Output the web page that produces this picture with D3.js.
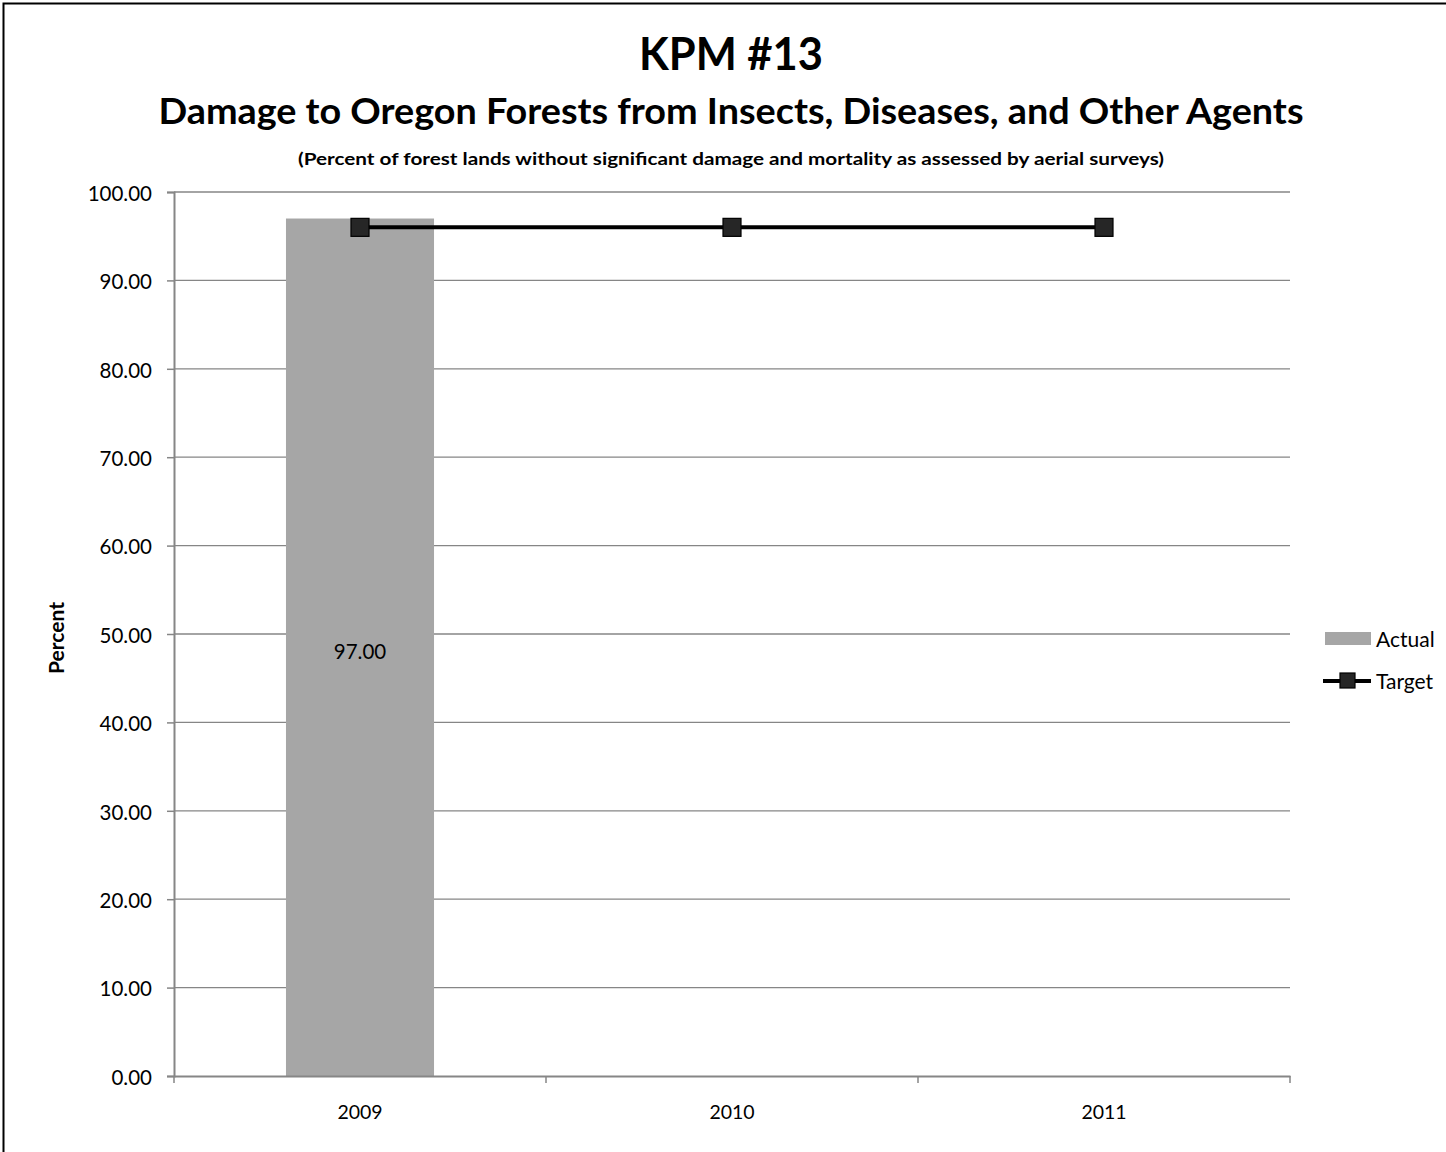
<!DOCTYPE html>
<html>
<head>
<meta charset="utf-8">
<script src="https://cdn.jsdelivr.net/npm/d3@7"></script>
<style>
  html, body { margin: 0; padding: 0; background: #fff; }
  svg { display: block; font-family: Lato, "Open Sans", sans-serif; }
</style>
</head>
<body>
<svg id="chart" width="1446" height="1152"></svg>
<script>
// Chart data
const years = ["2009", "2010", "2011"];
const actual = [97.00, null, null];
const target = [96, 96, 96];
const yTicks = [0, 10, 20, 30, 40, 50, 60, 70, 80, 90, 100];
const seriesNames = ["Actual", "Target"];

const titleLines = [
  "KPM #13",
  "Damage to Oregon Forests from Insects, Diseases, and Other Agents",
  "(Percent of forest lands without significant damage and mortality as assessed by aerial surveys)"
];

const svg = d3.select("#chart");
const W = 1446, H = 1152;
const plot = { left: 174, right: 1290, top: 192, bottom: 1076 };
const axisColor = "#868686";
const barColor = "#a6a6a6";

// Outer chart frame
svg.append("rect")
  .attr("x", 3.5).attr("y", 3.5)
  .attr("width", W + 10).attr("height", H + 10)
  .attr("fill", "#fff").attr("stroke", "#000").attr("stroke-width", 2);

// Titles
const titleSpecs = [
  { y: 70, size: 45, width: 184 },
  { y: 124, size: 36, width: 1145 },
  { y: 165, size: 17.5, width: 866 }
];
titleLines.forEach((t, i) => {
  const s = titleSpecs[i];
  svg.append("text")
    .attr("x", 731).attr("y", s.y)
    .attr("text-anchor", "middle")
    .attr("font-weight", "bold")
    .attr("font-size", s.size)
    .attr("textLength", s.width)
    .attr("lengthAdjust", "spacingAndGlyphs")
    .text(t);
});

// Scales
const x = d3.scaleBand().domain(years).range([plot.left, plot.right]).padding(0);
const y = d3.scaleLinear().domain([0, 100]).range([plot.bottom, plot.top]);
const barW = x.bandwidth() * 0.398;
const cx = d => x(d) + x.bandwidth() / 2;

// Horizontal gridlines
svg.append("g")
  .selectAll("line")
  .data(yTicks.filter(v => v > 0))
  .join("line")
  .attr("x1", plot.left).attr("x2", plot.right)
  .attr("y1", d => y(d)).attr("y2", d => y(d))
  .attr("stroke", axisColor).attr("stroke-width", 1.3);

// Y axis
const yAxis = svg.append("g")
  .attr("transform", `translate(${plot.left},0)`)
  .call(d3.axisLeft(y).tickValues(yTicks).tickFormat(d3.format(".2f")).tickSize(7).tickPadding(15));
yAxis.select(".domain").attr("stroke", axisColor).attr("stroke-width", 2);
yAxis.selectAll(".tick line").attr("stroke", axisColor).attr("stroke-width", 1.5);
yAxis.selectAll(".tick text")
  .attr("font-family", "Lato, sans-serif").attr("font-size", 20.5).attr("fill", "#000")
  .attr("dy", "0.4em");

// Bars
svg.append("g")
  .selectAll("rect")
  .data(years.map((yr, i) => ({ yr, v: actual[i] })).filter(d => d.v != null))
  .join("rect")
  .attr("x", d => cx(d.yr) - barW / 2)
  .attr("width", barW)
  .attr("y", d => y(d.v))
  .attr("height", d => y(0) - y(d.v))
  .attr("fill", barColor);

// Bar value labels
svg.append("g")
  .selectAll("text")
  .data(years.map((yr, i) => ({ yr, v: actual[i] })).filter(d => d.v != null))
  .join("text")
  .attr("x", d => cx(d.yr))
  .attr("y", d => y(d.v / 2) + 12)
  .attr("text-anchor", "middle")
  .attr("font-size", 20.5)
  .text(d => d3.format(".2f")(d.v));

// X axis
const xAxis = svg.append("g")
  .attr("transform", `translate(0,${plot.bottom})`)
  .call(d3.axisBottom(x).tickSize(0).tickPadding(29));
xAxis.select(".domain").attr("stroke", axisColor).attr("stroke-width", 2);
xAxis.selectAll(".tick text")
  .attr("font-family", "Lato, sans-serif").attr("font-size", 19.5).attr("fill", "#000");
// Category boundary ticks
const bounds = years.map(d => x(d)).concat([x(years[years.length - 1]) + x.bandwidth()]);
xAxis.append("g").selectAll("line")
  .data(bounds)
  .join("line")
  .attr("x1", d => d).attr("x2", d => d)
  .attr("y1", 0).attr("y2", 7)
  .attr("stroke", axisColor).attr("stroke-width", 1.5);

// Target line with square markers
const line = d3.line().x((d, i) => cx(years[i])).y(d => y(d));
svg.append("path")
  .datum(target)
  .attr("d", line)
  .attr("fill", "none").attr("stroke", "#000").attr("stroke-width", 4);
const mk = 18;
svg.append("g")
  .selectAll("rect")
  .data(target)
  .join("rect")
  .attr("x", (d, i) => cx(years[i]) - mk / 2)
  .attr("y", d => y(d) - mk / 2)
  .attr("width", mk).attr("height", mk)
  .attr("fill", "#262626").attr("stroke", "#000").attr("stroke-width", 1.2);

// Y axis title
svg.append("text")
  .attr("transform", "translate(64,638) rotate(-90)")
  .attr("text-anchor", "middle")
  .attr("font-weight", "bold")
  .attr("font-size", 21)
  .text("Percent");

// Legend
const lg = svg.append("g");
lg.append("rect")
  .attr("x", 1325).attr("y", 632).attr("width", 46).attr("height", 13)
  .attr("fill", barColor);
lg.append("line")
  .attr("x1", 1323).attr("x2", 1371).attr("y1", 681).attr("y2", 681)
  .attr("stroke", "#000").attr("stroke-width", 4);
lg.append("rect")
  .attr("x", 1340).attr("y", 673).attr("width", 15).attr("height", 15)
  .attr("fill", "#262626").attr("stroke", "#000").attr("stroke-width", 1.2);
lg.selectAll("text")
  .data(seriesNames)
  .join("text")
  .attr("x", 1376)
  .attr("y", (d, i) => [647, 689][i])
  .attr("font-size", 21)
  .text(d => d);
</script>
</body>
</html>
